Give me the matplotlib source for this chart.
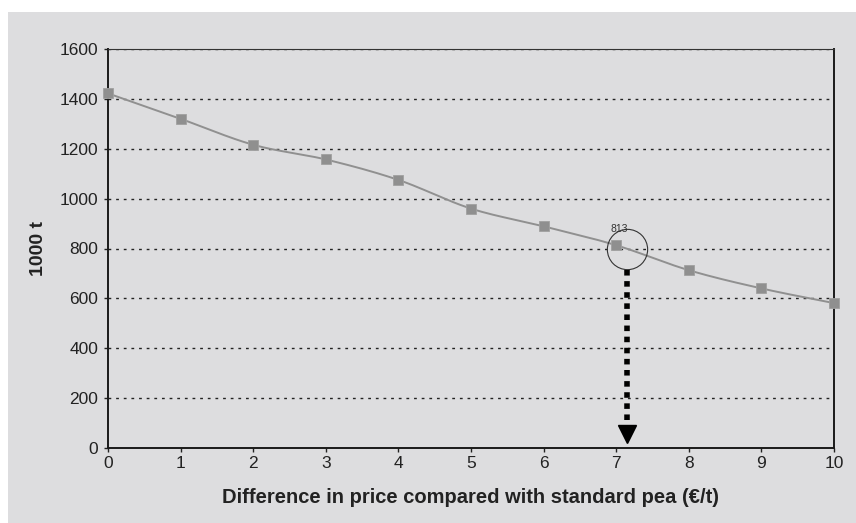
import numpy as np
import matplotlib.pyplot as plt
from matplotlib.patches import Rectangle

plt.rcParams['font.family'] = ['Liberation Sans', 'DejaVu Sans']

price_diff = [0, 1, 2, 3, 4, 5, 6, 7, 8, 9, 10]
volume = [1422, 1320, 1216, 1157, 1075, 960, 889, 813, 713, 640, 581]
y_ticks = [0, 200, 400, 600, 800, 1000, 1200, 1400, 1600]

# highlighted point and where the arrow drops to the x axis
mark_idx = 7
arrow_x = 7.15
arrow_top = 714
arrow_tip = 55


def smooth(xs, ys, steps=20):
    # catmull-rom curve through the points, like a spreadsheet "smoothed line"
    xs = np.asarray(xs, float)
    ys = np.asarray(ys, float)
    px = np.concatenate([[2 * xs[0] - xs[1]], xs, [2 * xs[-1] - xs[-2]]])
    py = np.concatenate([[2 * ys[0] - ys[1]], ys, [2 * ys[-1] - ys[-2]]])
    out_x, out_y = [], []
    t = np.linspace(0, 1, steps, endpoint=False)
    for i in range(1, len(px) - 2):
        for p, out in ((px, out_x), (py, out_y)):
            p0, p1, p2, p3 = p[i - 1], p[i], p[i + 1], p[i + 2]
            out.extend(0.5 * (2 * p1 + (-p0 + p2) * t
                              + (2 * p0 - 5 * p1 + 4 * p2 - p3) * t ** 2
                              + (-p0 + 3 * p1 - 3 * p2 + p3) * t ** 3))
    out_x.append(xs[-1])
    out_y.append(ys[-1])
    return out_x, out_y


fig = plt.figure(figsize=(8.56, 5.23), dpi=100)
fig.patches.append(Rectangle((8 / 856, 0), 1, 511 / 523, transform=fig.transFigure,
                             facecolor='#dddddf', edgecolor='none', zorder=-10))

ax = fig.add_axes([108 / 856, 75 / 523, 726 / 856, 399 / 523])
ax.set_facecolor('none')

for y in y_ticks[1:]:
    ax.axhline(y, color='#222222', linewidth=1.0, linestyle=(0, (2, 3.5)), zorder=1)

sx, sy = smooth(price_diff, volume)
ax.plot(sx, sy, color='#909090', linewidth=1.4, zorder=3)
ax.plot(price_diff, volume, linestyle='none', marker='s', markersize=7,
        markerfacecolor='#8f8f8f', markeredgecolor='#a0a0a0', markeredgewidth=0.6,
        zorder=4, clip_on=False)

# circle and dotted arrow on the highlighted value
ax.plot([arrow_x], [800], marker='o', markersize=29, fillstyle='none',
        markeredgecolor='#333333', markeredgewidth=0.8, zorder=5)
ax.plot([arrow_x, arrow_x], [arrow_top, arrow_tip + 40], color='black',
        linewidth=4.0, linestyle=(0, (1, 1)), solid_capstyle='butt', zorder=5)
ax.plot([arrow_x], [arrow_tip], marker='v', markersize=13, color='black', zorder=5)
ax.text(price_diff[mark_idx] + 0.045, volume[mark_idx] + 67, f"{volume[mark_idx]}",
        fontsize=7.5, color='#333333', ha='center', va='center', zorder=6)

ax.set_xlim(0, 10)
ax.set_ylim(0, 1600)
ax.set_xticks(price_diff)
ax.set_yticks(y_ticks)
ax.tick_params(axis='both', labelsize=12.5, labelcolor='#222222', color='#222222',
               length=3, width=1)
ax.tick_params(axis='y', pad=4)
ax.tick_params(axis='x', pad=3)

for side in ['left', 'bottom', 'right']:
    ax.spines[side].set_color('#1a1a1a')
    ax.spines[side].set_linewidth(1.4)
ax.spines['top'].set_color('#333333')
ax.spines['top'].set_linewidth(0.8)

ax.set_xlabel('Difference in price compared with standard pea (€/t)', fontsize=14.5,
              fontweight='bold', color='#222222', labelpad=12)
ax.set_ylabel('1000 t', fontsize=14, fontweight='bold', color='#222222', labelpad=9)

fig.savefig('out.png', dpi=100, facecolor='white')
